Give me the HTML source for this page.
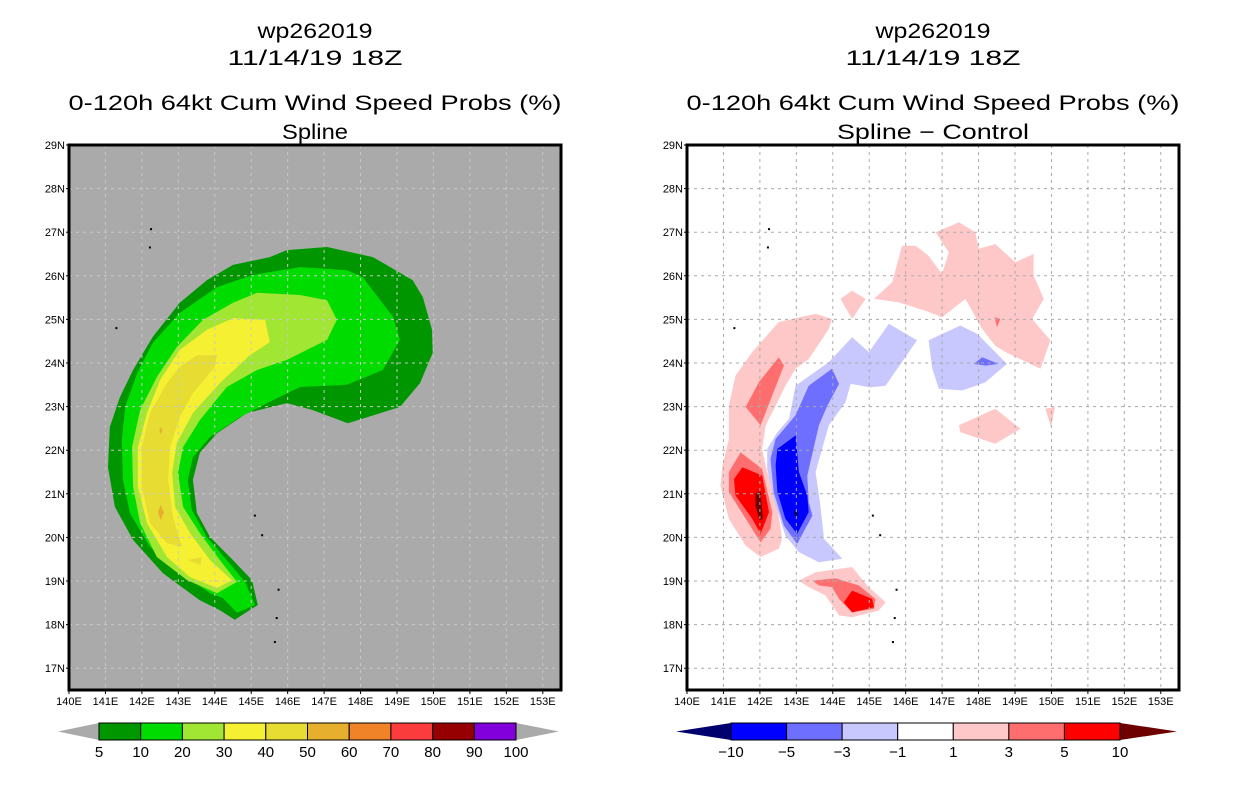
<!DOCTYPE html>
<html><head><meta charset="utf-8"><style>
html,body{margin:0;padding:0;background:#fff;}
svg{display:block;font-family:"Liberation Sans",sans-serif;}
</style></head><body>
<svg id="fig" width="1236" height="800" viewBox="0 0 1236 800" xmlns="http://www.w3.org/2000/svg">
<g id="L"></g>
<g id="R"></g>
</svg>
<script>
// ---------------- DATA ----------------
const lonTicks = [140,141,142,143,144,145,146,147,148,149,150,151,152,153];
const latTicks = [17,18,19,20,21,22,23,24,25,26,27,28,29];
const probLevels = ["5","10","20","30","40","50","60","70","80","90","100"];
const probColors = ["#009600","#00dc00","#a0e632","#f5f032","#e6dc32","#e6af2d","#f08228","#fa3c3c","#960000","#8200dc"];
const diffLevels = ["-10","-5","-3","-1","1","3","5","10"];
const diffColors = ["#0000ff","#6e6eff","#c8c8ff","#ffffff","#ffc8c8","#ff6e6e","#ff0000"];

// Left panel contour polygons [lon,lat]
const prob5 = [[144.55,18.11],[145.18,18.45],[145.02,19.02],[144.5,19.48],[143.87,20.01],[143.51,20.56],[143.4,21.32],[143.59,21.94],[144.06,22.39],[144.88,22.85],[145.98,23.08],[146.69,22.92],[147.65,22.62],[149.08,22.99],[149.63,23.54],[149.98,24.23],[149.96,24.76],[149.71,25.51],[149.43,25.9],[148.34,26.43],[147.08,26.66],[145.98,26.59],[145.51,26.43],[144.5,26.25],[143.78,25.9],[143.04,25.38],[142.3,24.6],[141.76,23.84],[141.4,23.22],[141.12,22.53],[141.07,21.61],[141.26,20.7],[141.76,19.94],[142.58,19.18],[143.59,18.56],[144.14,18.33]];
const prob10 = [[144.61,18.27],[145.1,18.45],[144.83,18.98],[144.33,19.48],[143.78,20.01],[143.37,20.63],[143.26,21.32],[143.4,21.84],[143.87,22.3],[144.69,22.76],[145.6,23.15],[146.34,23.45],[147.62,23.5],[148.61,23.84],[149.08,24.53],[148.89,25.06],[148.06,25.97],[147.62,26.13],[146.34,26.2],[145.05,26.02],[144.06,25.74],[143.04,25.15],[142.3,24.46],[141.87,23.77],[141.54,22.99],[141.45,22.23],[141.48,21.32],[141.67,20.56],[142.22,19.78],[142.96,19.25],[143.87,18.72],[144.22,18.61]];
const prob20 = [[144.06,18.72],[144.61,18.98],[144.14,19.48],[143.59,20.1],[143.13,20.7],[142.99,21.48],[143.13,22.07],[143.59,22.69],[144.33,23.45],[145.16,23.84],[145.98,24.07],[147.08,24.53],[147.35,24.99],[147.08,25.44],[146.34,25.56],[145.16,25.61],[144.5,25.38],[143.68,24.99],[142.96,24.37],[142.41,23.68],[141.95,22.92],[141.73,22.07],[141.76,21.16],[141.95,20.33],[142.41,19.55],[143.24,19.02]];
const prob30 = [[144.06,18.84],[144.47,19.02],[143.87,19.48],[143.32,20.1],[142.91,20.7],[142.83,21.48],[142.96,22.17],[143.4,22.85],[144.14,23.54],[144.96,24.18],[145.51,24.48],[145.38,24.99],[144.5,25.03],[143.78,24.76],[143.04,24.3],[142.5,23.61],[142.14,22.85],[141.89,22.07],[141.89,21.16],[142.14,20.33],[142.69,19.55],[143.32,19.09]];
const prob40 = [[143.51,24.18],[144.06,24.18],[144.0,23.91],[143.4,23.31],[143.04,22.76],[142.77,22.07],[142.72,21.32],[142.85,20.47],[143.1,19.78],[142.69,19.87],[142.22,20.33],[142.0,21.16],[142.0,22.07],[142.22,22.85],[142.69,23.54],[143.04,23.91]];
const prob40b = [[143.26,19.48],[143.65,19.55],[143.6,19.37]];
const prob50a = [[142.52,20.75],[142.6,20.57],[142.52,20.4],[142.44,20.57]];
const prob50b = [[142.52,22.53],[142.56,22.45],[142.52,22.37],[142.48,22.45]];

// Right panel difference polygons [lon,lat]
const dPos1a = [[143.53,25.13],[143.98,25.01],[143.89,24.78],[143.34,24.09],[142.98,23.87],[142.7,23.48],[142.43,23.02],[142.16,22.57],[142.06,22.03],[142.2,21.5],[142.43,20.96],[142.61,19.97],[142.52,19.74],[142.02,19.55],[141.61,19.81],[141.15,20.42],[140.92,21.19],[140.97,21.65],[141.15,22.26],[141.15,23.02],[141.33,23.71],[141.79,24.25],[142.52,24.94]];
const dPos3a = [[142.52,24.13],[142.66,23.94],[142.02,22.57],[141.61,22.99],[141.97,23.56]];
const dPos3b = [[141.47,21.95],[142.06,21.57],[142.34,20.58],[142.29,20.2],[142.02,19.89],[141.61,20.43],[141.15,21.04],[141.15,21.5]];
const dPos5a = [[141.52,21.61],[142.06,21.42],[142.25,20.58],[142.02,20.08],[141.79,20.43],[141.33,20.96],[141.29,21.34]];
const dPos10a = [[141.88,21.0],[142.02,21.07],[142.08,20.43],[141.99,20.39],[141.88,20.73]];
const dPos1b = [[143.07,19.01],[143.53,19.2],[144.53,19.32],[144.94,18.9],[145.45,18.51],[145.26,18.32],[144.53,18.17],[144.17,18.21],[143.8,18.67],[143.34,18.86]];
const dPos3c = [[143.44,19.01],[144.07,19.06],[144.71,18.9],[145.17,18.59],[145.13,18.36],[144.53,18.28],[144.17,18.59],[143.98,18.86],[143.62,18.9]];
const dPos5b = [[144.3,18.51],[144.53,18.78],[145.08,18.59],[145.13,18.4],[144.53,18.28]];
const dPos1c = [[145.13,25.47],[145.63,25.85],[145.9,26.69],[146.27,26.69],[146.63,26.46],[147.0,26.04],[147.18,26.54],[146.82,27.0],[147.46,27.23],[147.91,27.0],[148.01,26.62],[148.46,26.73],[149.01,26.31],[149.51,26.5],[149.51,26.01],[149.79,25.47],[149.47,25.01],[149.97,24.52],[149.7,23.87],[148.74,24.25],[148.46,24.4],[148.1,24.78],[147.64,25.47],[147.0,25.05],[146.54,25.2],[145.81,25.39]];
const dPos3d = [[148.44,25.05],[148.6,25.01],[148.5,24.82]];
const dPos1d = [[144.21,25.47],[144.53,25.66],[144.9,25.47],[144.53,25.01]];
const dPos1e = [[147.46,22.57],[148.46,22.95],[149.15,22.49],[148.46,22.15],[147.5,22.41]];
const dPos1f = [[149.83,22.95],[150.1,22.99],[149.99,22.53]];
const dNeg1a = [[142.2,22.03],[142.48,22.41],[142.8,22.72],[142.98,23.48],[143.89,24.02],[144.53,24.59],[144.99,24.25],[145.54,24.9],[146.31,24.52],[145.45,23.48],[145.03,23.44],[144.49,23.52],[144.35,23.1],[143.89,22.57],[143.53,21.5],[143.66,20.73],[143.76,19.97],[144.26,19.51],[143.62,19.43],[143.07,19.66],[142.7,20.04],[142.38,20.88],[142.2,21.57]];
const dNeg3a = [[142.43,22.26],[142.98,22.8],[143.34,23.48],[143.98,23.87],[144.17,23.52],[143.85,23.02],[143.62,22.57],[143.3,21.42],[143.34,20.81],[143.44,20.5],[143.02,19.85],[142.66,20.27],[142.38,21.04],[142.29,21.8]];
const dNeg5a = [[142.48,22.03],[142.98,22.34],[143.07,21.5],[143.3,20.96],[143.34,20.58],[143.02,20.08],[142.7,20.43],[142.48,21.04],[142.43,21.65]];
const dNeg10a = [[142.96,20.65],[143.05,20.53],[143.0,20.43],[142.93,20.53]];
const dNeg1b = [[146.63,24.52],[147.5,24.86],[147.96,24.67],[148.78,23.98],[148.19,23.56],[147.55,23.37],[146.91,23.41],[146.73,23.87]];
const dNeg3b = [[147.87,23.98],[148.1,24.13],[148.55,23.98],[148.19,23.94]];

// islands (tiny coastline marks)
const islands = [[142.25,27.07],[142.22,26.65],[141.3,24.8],[145.1,20.5],[145.3,20.05],[145.75,18.8],[145.7,18.15],[145.65,17.6]];

// ---------------- DRAWING ----------------
const NS = "http://www.w3.org/2000/svg";
const LON0 = 140, LON1 = 153.5, LAT0 = 16.5, LAT1 = 29;
const TOP = 145, BOT = 690;
function mk(tag, attrs, parent){
  const e = document.createElementNS(NS, tag);
  for (const k in attrs) e.setAttribute(k, attrs[k]);
  parent.appendChild(e); return e;
}
function axes(x0, x1){
  return {
    x: lon => x0 + (lon - LON0) / (LON1 - LON0) * (x1 - x0),
    y: lat => BOT - (lat - LAT0) / (LAT1 - LAT0) * (BOT - TOP)
  };
}
function poly(g, ax, pts, fill, name){
  const p = mk("polygon", {points: pts.map(q => ax.x(q[0]).toFixed(1)+","+ax.y(q[1]).toFixed(1)).join(" "), fill: fill}, g);
  
  
}
function text(g, x, y, s, size, anchor, name, tl){
  const t = mk("text", {x: x, y: y, "font-size": size, "text-anchor": anchor || "middle", fill: "#000"}, g);
  if (tl){ t.setAttribute("textLength", tl); t.setAttribute("lengthAdjust", "spacingAndGlyphs"); }
  t.textContent = s;
  
  
  return t;
}
function panel(g, x0, x1, bg, gridColor, titles, fills){
  const ax = axes(x0, x1);
  const cx = (x0 + x1) / 2;
  const tw = [115, 175, 493, titles[3].length > 8 ? 192 : 66];
  const ty = [38, 65, 110, 139];
  titles.forEach((s, i) => text(g, cx, ty[i], s, 21, "middle", "title-line-" + (i+1), tw[i]));
  const bgR = mk("rect", {x: x0, y: TOP, width: x1 - x0, height: BOT - TOP, fill: bg}, g);
  
  
  fills(g, ax);
  islands.forEach(q => {
    const m = mk("rect", {x: ax.x(q[0]) - 1, y: ax.y(q[1]) - 1, width: 2, height: 2, fill: "#000"}, g);
    
    
  });
  lonTicks.forEach(l => {
    if (l > LON0) {
      const ln = mk("line", {x1: ax.x(l), x2: ax.x(l), y1: TOP, y2: BOT, stroke: gridColor, "stroke-width": 1, "stroke-dasharray": "3,4"}, g);
      
      
    }
    mk("line", {x1: ax.x(l), x2: ax.x(l), y1: BOT, y2: BOT + 4, stroke: "#000"}, g);
    text(g, ax.x(l), BOT + 15, l + "E", 11, "middle", "x-tick-label");
  });
  latTicks.forEach(l => {
    if (l < LAT1) {
      const ln = mk("line", {x1: x0, x2: x1, y1: ax.y(l), y2: ax.y(l), stroke: gridColor, "stroke-width": 1, "stroke-dasharray": "3,4"}, g);
      
      
    }
    mk("line", {x1: x0 - 3, x2: x0, y1: ax.y(l), y2: ax.y(l), stroke: "#000"}, g);
    text(g, x0 - 4, ax.y(l) + 4, l + "N", 11, "end", "y-tick-label");
  });
  const fr = mk("rect", {x: x0, y: TOP, width: x1 - x0, height: BOT - TOP, fill: "none", stroke: "#000", "stroke-width": 3}, g);
  
  
}
function colorbar(g, tipL, bx0, bx1, tipR, colors, labels, leftTri, rightTri, name){
  const y0 = 723, y1 = 740, ym = 731.5;
  const n = colors.length, w = (bx1 - bx0) / n;
  const lt = mk("polygon", {points: `${tipL},${ym} ${bx0},${y0} ${bx0},${y1}`, fill: leftTri}, g);
  
  
  const rt = mk("polygon", {points: `${tipR},${ym} ${bx1},${y0} ${bx1},${y1}`, fill: rightTri}, g);
  
  
  colors.forEach((c, i) => {
    const r = mk("rect", {x: bx0 + i * w, y: y0, width: w, height: y1 - y0, fill: c, stroke: "#000", "stroke-width": 1}, g);
    
    
  });
  labels.forEach((s, i) => text(g, bx0 + i * w, 757, s.replace("-", "\u2212"), 15, "middle", name + "-label"));
}

const L = document.getElementById("L");
panel(L, 69, 561, "#aaaaaa", "#c8c8c8", ["wp262019", "11/14/19 18Z", "0-120h 64kt Cum Wind Speed Probs (%)", "Spline"], (g, ax) => {
  poly(g, ax, prob5, probColors[0], "prob-5-contour");
  poly(g, ax, prob10, probColors[1], "prob-10-contour");
  poly(g, ax, prob20, probColors[2], "prob-20-contour");
  poly(g, ax, prob30, probColors[3], "prob-30-contour");
  poly(g, ax, prob40, probColors[4], "prob-40-contour");
  poly(g, ax, prob40b, probColors[4], "prob-40-contour-small");
  poly(g, ax, prob50a, probColors[5], "prob-50-spot");
  poly(g, ax, prob50b, probColors[5], "prob-50-spot");
});
colorbar(L, 58, 99, 516, 559, probColors, probLevels, "#aaaaaa", "#aaaaaa", "prob-colorbar");

const R = document.getElementById("R");
panel(R, 687, 1179, "#ffffff", "#aaaaaa", ["wp262019", "11/14/19 18Z", "0-120h 64kt Cum Wind Speed Probs (%)", "Spline \u2212 Control"], (g, ax) => {
  [dPos1a, dPos1b, dPos1c, dPos1d, dPos1e, dPos1f].forEach(p => poly(g, ax, p, diffColors[4], "diff-pos-1-contour"));
  [dPos3a, dPos3b, dPos3c, dPos3d].forEach(p => poly(g, ax, p, diffColors[5], "diff-pos-3-contour"));
  [dPos5a, dPos5b].forEach(p => poly(g, ax, p, diffColors[6], "diff-pos-5-contour"));
  poly(g, ax, dPos10a, "#6e0000", "diff-pos-10-contour");
  [dNeg1a, dNeg1b].forEach(p => poly(g, ax, p, diffColors[2], "diff-neg-1-contour"));
  [dNeg3a, dNeg3b].forEach(p => poly(g, ax, p, diffColors[1], "diff-neg-3-contour"));
  poly(g, ax, dNeg5a, diffColors[0], "diff-neg-5-contour");
  poly(g, ax, dNeg10a, "#00006e", "diff-neg-10-contour");
});
colorbar(R, 676, 731, 1120, 1177, diffColors, diffLevels, "#00006e", "#6e0000", "diff-colorbar");
</script>
</body></html>
